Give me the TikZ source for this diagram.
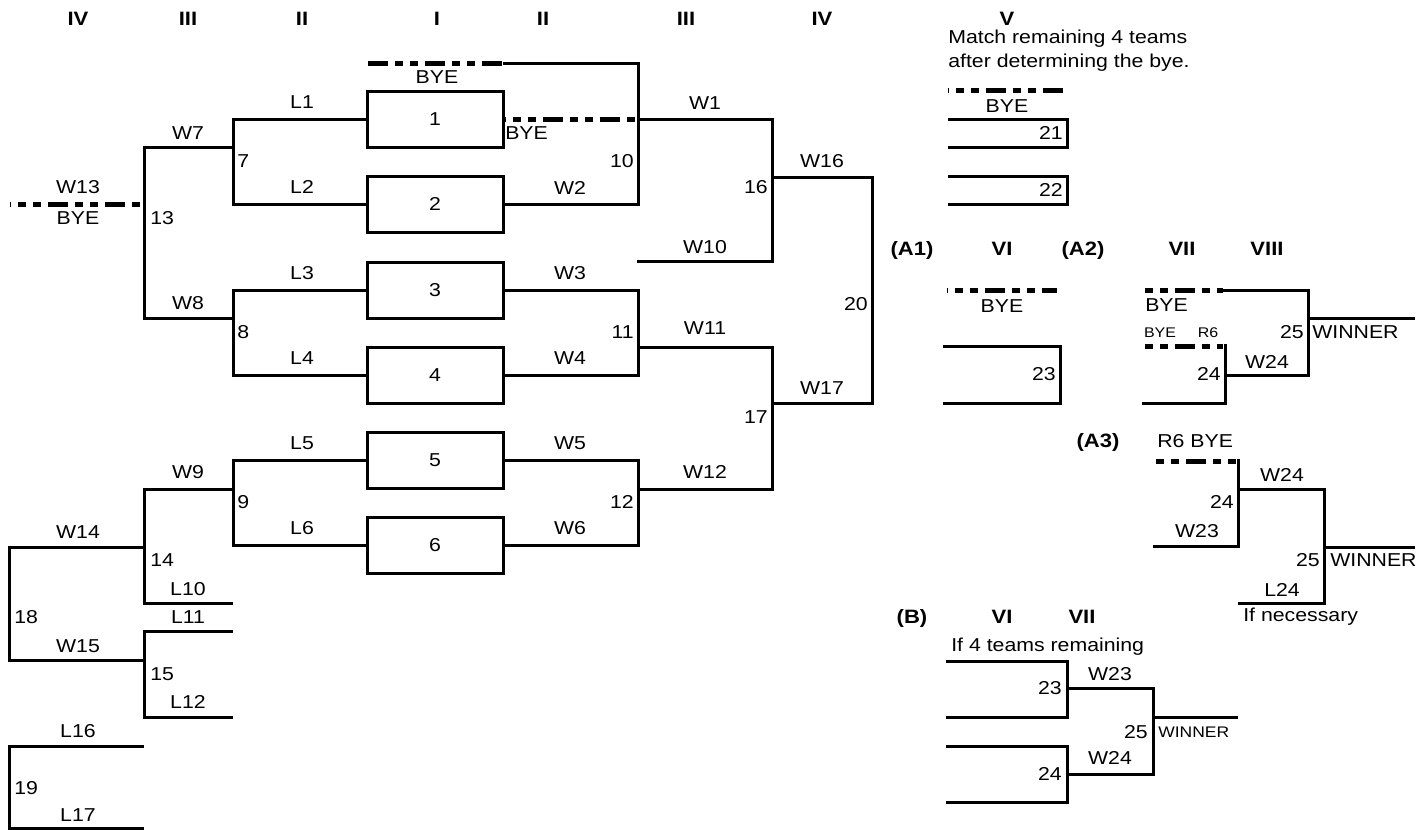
\documentclass[tikz,border=0pt]{standalone}
\usepackage{fontspec}
\setmainfont{Liberation Sans}[FakeStretch=1.14]
\newcommand\nsz{\fontsize{14pt}{16pt}\selectfont}
\newcommand\hsz{\fontsize{14.5pt}{16pt}\selectfont}
\newcommand\ssz{\fontsize{10.5pt}{12pt}\selectfont}
\newcommand\msz{\fontsize{11.5pt}{13pt}\selectfont}
\begin{document}
\begin{tikzpicture}[x=0.75pt,y=-0.75pt,
  lbl/.style={inner sep=0pt, text height=10pt, text depth=0pt, font=\nsz},
  hdr/.style={lbl, text height=10.4pt, font=\hsz\bfseries},
  sml/.style={inner sep=0pt, text height=7.5pt, text depth=0pt, font=\ssz},
  mid/.style={inner sep=0pt, text height=8.2pt, text depth=0pt, font=\msz},
  ln/.style={line width=2.25pt},
  bye/.style={line width=3.75pt, dash pattern=on 15pt off 5.25pt on 6pt off 5.25pt on 6pt off 5.25pt},
  box/.style={draw, line width=2.25pt, minimum width=102pt, minimum height=42pt, inner sep=0pt, font=\nsz}]
\useasboundingbox (0,0) rectangle (1424,829);
% headers
\node[hdr] (h1) at (78,19) {IV};
\node[hdr] (h2) at (188,19) {III};
\node[hdr] (h3) at (302,19) {II};
\node[hdr] (h4) at (437,19) {I};
\node[hdr] (h5) at (543,19) {II};
\node[hdr] (h6) at (686,19) {III};
\node[hdr] (h7) at (822,19) {IV};
\node[hdr] (h8) at (1007,19) {V};
% boxes
\node[box] (b1) at (435,119) {1};
\node[box] (b2) at (435,204) {2};
\node[box] (b3) at (435,290) {3};
\node[box] (b4) at (435,375) {4};
\node[box] (b5) at (435,460) {5};
\node[box] (b6) at (435,545) {6};
% left bracket
\draw[ln] (b1.west) -- (233,119) -- (233,204) -- (b2.west);
\draw[ln] (b3.west) -- (233,290) -- (233,375) -- (b4.west);
\draw[ln] (b5.west) -- (233,460) -- (233,545) -- (b6.west);
\draw[ln] (233,147) -- (144,147) -- (144,318) -- (233,318);
\draw[bye, dash phase=14pt] (10,204) -- (144,204);
\draw[ln] (233,489) -- (144,489) -- (144,603) -- (233,603);
\draw[ln] (233,631) -- (144,631) -- (144,717) -- (233,717);
\draw[ln] (144,547) -- (9,547) -- (9,660) -- (144,660);
\draw[ln] (144,746) -- (9,746) -- (9,828) -- (144,828);
\node[lbl] (tL1) at (302,102) {L1};
\node[lbl] (tL2) at (302,187) {L2};
\node[lbl] (tW7) at (188,133) {W7};
\node[lbl,anchor=west] (t7) at (237,161) {7};
\node[lbl] (tL3) at (302,273) {L3};
\node[lbl] (tL4) at (302,358) {L4};
\node[lbl] (tW8) at (188,303) {W8};
\node[lbl,anchor=west] (t8) at (237,332) {8};
\node[lbl] (tL5) at (302,443) {L5};
\node[lbl] (tL6) at (302,528) {L6};
\node[lbl] (tW9) at (188,472) {W9};
\node[lbl,anchor=west] (t9) at (237,502) {9};
\node[lbl] (tW13) at (78,187) {W13};
\node[lbl] (tBYEa) at (78,218) {BYE};
\node[lbl,anchor=west] (t13) at (150,218) {13};
\node[lbl] (tW14) at (78,532) {W14};
\node[lbl,anchor=west] (t14) at (150,560) {14};
\node[lbl] (tL10) at (188,589) {L10};
\node[lbl] (tL11) at (188,617) {L11};
\node[lbl,anchor=west] (t15) at (150,674) {15};
\node[lbl] (tL12) at (188,702) {L12};
\node[lbl] (tW15) at (78,646) {W15};
\node[lbl,anchor=west] (t18) at (14,617) {18};
\node[lbl] (tL16) at (78,731) {L16};
\node[lbl,anchor=west] (t19) at (14,788) {19};
\node[lbl] (tL17) at (78,815) {L17};
% right bracket
\draw[bye] (368,63) -- (503,63);
\draw[ln] (503,63) -- (638,63) -- (638,204) -- (b2.east);
\draw[bye, dash phase=14pt] (b1.east) -- (636,119);
\draw[ln] (638,119) -- (772,119) -- (772,261) -- (637,261);
\draw[ln] (772,177) -- (872,177) -- (872,403) -- (772,403);
\draw[ln] (b3.east) -- (638,290) -- (638,375) -- (b4.east);
\draw[ln] (638,347) -- (772,347) -- (772,489) -- (638,489);
\draw[ln] (b5.east) -- (638,460) -- (638,545) -- (b6.east);
\node[lbl] (tBYEb) at (437,77) {BYE};
\node[lbl,anchor=west] (tBYEc) at (505,133) {BYE};
\node[lbl] (tW2) at (570,188) {W2};
\node[lbl,anchor=east] (t10) at (634,161) {10};
\node[lbl] (tW1) at (705,103) {W1};
\node[lbl] (tW10) at (705,247) {W10};
\node[lbl,anchor=east] (t16) at (768,187) {16};
\node[lbl] (tW16) at (822,161) {W16};
\node[lbl] (tW17) at (822,388) {W17};
\node[lbl,anchor=east] (t20) at (868,304) {20};
\node[lbl] (tW3) at (570,273) {W3};
\node[lbl] (tW4) at (570,358) {W4};
\node[lbl,anchor=east] (t11) at (634,332) {11};
\node[lbl] (tW11) at (705,328) {W11};
\node[lbl,anchor=east] (t17) at (768,417) {17};
\node[lbl] (tW5) at (570,443) {W5};
\node[lbl] (tW6) at (570,528) {W6};
\node[lbl,anchor=east] (t12) at (634,502) {12};
\node[lbl] (tW12) at (705,472) {W12};
% V
\node[lbl,anchor=west] (tm1) at (948,37) {Match remaining 4 teams};
\node[lbl,anchor=west] (tm2) at (948,61) {after determining the bye.};
\draw[bye, dash phase=14pt] (948,90) -- (1065,90);
\node[lbl] (tBYEd) at (1007,106) {BYE};
\draw[ln] (948,119) -- (1067,119) -- (1067,147) -- (948,147);
\node[lbl,anchor=east] (t21) at (1063,133) {21};
\draw[ln] (948,176) -- (1067,176) -- (1067,204) -- (948,204);
\node[lbl,anchor=east] (t22) at (1063,190) {22};
% A1 / A2
\node[hdr] (hA1) at (912,249) {(A1)};
\node[hdr] (hVI) at (1002,249) {VI};
\node[hdr] (hA2) at (1083,249) {(A2)};
\node[hdr] (hVII) at (1182,249) {VII};
\node[hdr] (hVIII) at (1267,249) {VIII};
\draw[bye, dash phase=14pt] (947,290) -- (1057,290);
\node[lbl] (tBYEe) at (1002,306) {BYE};
\draw[ln] (943,346) -- (1060,346) -- (1060,403) -- (943,403);
\node[lbl,anchor=east] (t23a) at (1056,374) {23};
\draw[bye, dash phase=18pt] (1142,290) -- (1223,290);
\draw[ln] (1223,290) -- (1308,290) -- (1308,375) -- (1225,375);
\node[lbl,anchor=west] (tBYEf) at (1145,305) {BYE};
\node[sml] (tBYEg) at (1160,332) {BYE};
\node[sml] (tR6a) at (1208,332) {R6};
\draw[bye, dash phase=18pt] (1142,346) -- (1223,346);
\draw[ln] (1225,344) -- (1225,403) -- (1142,403);
\node[lbl,anchor=east] (t24a) at (1221,374) {24};
\node[lbl] (tW24a) at (1267,362) {W24};
\draw[ln] (1308,318) -- (1415,318);
\node[lbl,anchor=east] (t25a) at (1304,332) {25};
\node[lbl,anchor=west] (tWINa) at (1312,332) {WINNER};
% A3
\node[hdr] (hA3) at (1098,441) {(A3)};
\node[lbl,anchor=west] (tR6b) at (1157,441) {R6 BYE};
\draw[bye, dash phase=18pt] (1153,461) -- (1236,461);
\draw[ln] (1238,459) -- (1238,546) -- (1153,546);
\node[lbl,anchor=east] (t24b) at (1234,502) {24};
\node[lbl] (tW23a) at (1197,531) {W23};
\draw[ln] (1238,489) -- (1324,489) -- (1324,603) -- (1238,603);
\node[lbl] (tW24b) at (1282,475) {W24};
\node[lbl] (tL24) at (1282,590) {L24};
\node[lbl,anchor=west] (tnec) at (1243,615) {If necessary};
\draw[ln] (1324,547) -- (1415,547);
\node[lbl,anchor=east] (t25b) at (1320,560) {25};
\node[lbl,anchor=west] (tWINb) at (1330,560) {WINNER};
% B
\node[hdr] (hB) at (912,617) {(B)};
\node[hdr] (hVIb) at (1002,617) {VI};
\node[hdr] (hVIIb) at (1082,617) {VII};
\node[lbl,anchor=west] (t4t) at (951,645) {If 4 teams remaining};
\draw[ln] (946,661) -- (1067,661) -- (1067,717) -- (946,717);
\node[lbl,anchor=east] (t23b) at (1062,688) {23};
\draw[ln] (946,746) -- (1067,746) -- (1067,802) -- (946,802);
\node[lbl,anchor=east] (t24c) at (1062,774) {24};
\draw[ln] (1067,688) -- (1153,688) -- (1153,774) -- (1067,774);
\node[lbl] (tW23b) at (1110,674) {W23};
\node[lbl] (tW24c) at (1110,758) {W24};
\draw[ln] (1153,717) -- (1238,717);
\node[lbl,anchor=east] (t25c) at (1148,732) {25};
\node[mid,anchor=west] (tWINc) at (1158,732) {WINNER};
\end{tikzpicture}
\end{document}
